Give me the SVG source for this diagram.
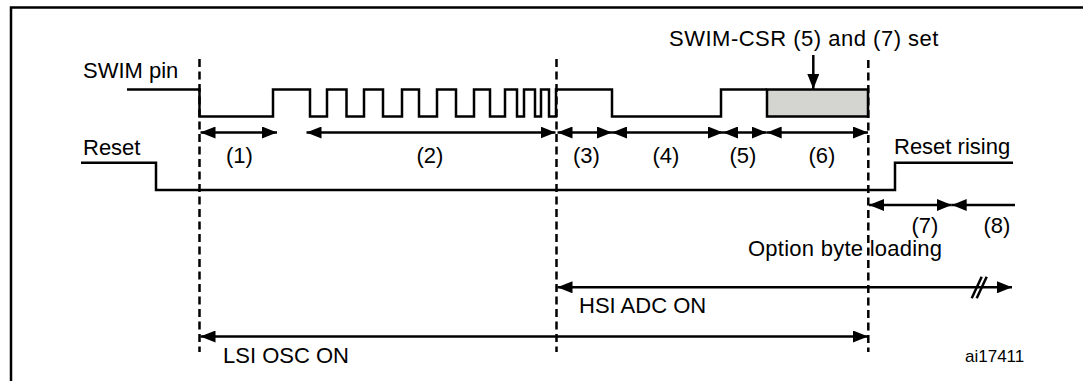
<svg xmlns="http://www.w3.org/2000/svg" width="1083" height="381" viewBox="0 0 1083 381">
<style>
.t{font-family:"Liberation Sans",Arial,sans-serif;font-size:22px;fill:#000}
.s{font-size:17px}
.w{fill:none;stroke:#000;stroke-width:2.5;stroke-linejoin:miter}
.d{fill:none;stroke:#000;stroke-width:2.5;stroke-dasharray:8 4.5}
.a{fill:none;stroke:#000;stroke-width:2.5}
</style>
<defs>
<marker id="ah" markerUnits="userSpaceOnUse" markerWidth="15" markerHeight="12" refX="15" refY="6" orient="auto-start-reverse" viewBox="0 0 15 12">
<path d="M0,0 L15,6 L0,12 z" fill="#000"/>
</marker>
</defs>
<rect width="1083" height="381" fill="#fff"/>
<g id="frame">
<path d="M11,381 V7.5 H1083" fill="none" stroke="#000" stroke-width="2.5"/>
</g>
<g id="swim">
<text class="t" x="83" y="78">SWIM pin</text>
<rect x="767" y="89.5" width="101" height="27" fill="#d4d4d0" stroke="#000" stroke-width="2.5"/>
<path class="w" d="M127,89.5 H199.5 V116.5 H273 V89.5 H310 V116.5 H327 V89.5 H346.5 V116.5 H364 V89.5 H383 V116.5 H402 V89.5 H419 V116.5 H437 V89.5 H456 V116.5 H474 V89.5 H490 V116.5 H505 V89.5 H517 V116.5 H524 V89.5 H535 V116.5 H541 V89.5 H549 V116.5 H556 V89.5 H612 V116.5 H721 V89.5 H767"/>
</g>
<g id="reset">
<text class="t" x="83" y="155">Reset</text>
<path class="w" d="M81,162.7 H156 V190 H895 V162.7 H1013"/>
<text class="t" x="894" y="154">Reset rising</text>
</g>
<g id="swimcsr">
<text class="t" x="669" y="46" letter-spacing="0.5">SWIM-CSR (5) and (7) set</text>
</g>
<g id="labels">
<text class="t" x="239.5" y="163" text-anchor="middle">(1)</text>
<text class="t" x="430" y="163" text-anchor="middle">(2)</text>
<text class="t" x="586.5" y="163" text-anchor="middle">(3)</text>
<text class="t" x="666" y="163" text-anchor="middle">(4)</text>
<text class="t" x="743" y="163" text-anchor="middle">(5)</text>
<text class="t" x="822" y="163" text-anchor="middle">(6)</text>
<text class="t" x="925" y="233" text-anchor="middle">(7)</text>
<text class="t" x="997" y="233" text-anchor="middle">(8)</text>
<text class="t" x="748" y="256" letter-spacing="0.25">Option byte loading</text>
<text class="t" x="579" y="313">HSI ADC ON</text>
<text class="t" x="223" y="363">LSI OSC ON</text>
<text class="t s" x="965" y="362">ai17411</text>
</g>
<g id="connectors">
<path class="d" d="M199.5,59 V352"/>
<path class="d" d="M556.5,59 V352"/>
<path class="d" d="M868.3,60 V352"/>
<path class="a" d="M813.3,55 V89" marker-end="url(#ah)"/>
<path class="a" d="M200.5,132.5 H277" marker-start="url(#ah)" marker-end="url(#ah)"/>
<path class="a" d="M306.5,132.5 H555.5" marker-start="url(#ah)" marker-end="url(#ah)"/>
<path class="a" d="M557.5,132.5 H612" marker-start="url(#ah)" marker-end="url(#ah)"/>
<path class="a" d="M612,132.5 H723" marker-start="url(#ah)" marker-end="url(#ah)"/>
<path class="a" d="M723,132.5 H766.7" marker-start="url(#ah)" marker-end="url(#ah)"/>
<path class="a" d="M766.7,132.5 H868" marker-start="url(#ah)" marker-end="url(#ah)"/>
<path class="a" d="M869,205 H951.7" marker-start="url(#ah)" marker-end="url(#ah)"/>
<path class="a" d="M951.7,205 H1015" marker-start="url(#ah)"/>
<path class="a" d="M557.5,287.3 H1012" marker-start="url(#ah)" marker-end="url(#ah)"/>
<path d="M971.7,298.3 L981.7,276.7 M976.7,298.3 L986.7,276.7" fill="none" stroke="#000" stroke-width="2.5"/>
<path class="a" d="M200.5,336.5 H868" marker-start="url(#ah)" marker-end="url(#ah)"/>
</g>
</svg>
